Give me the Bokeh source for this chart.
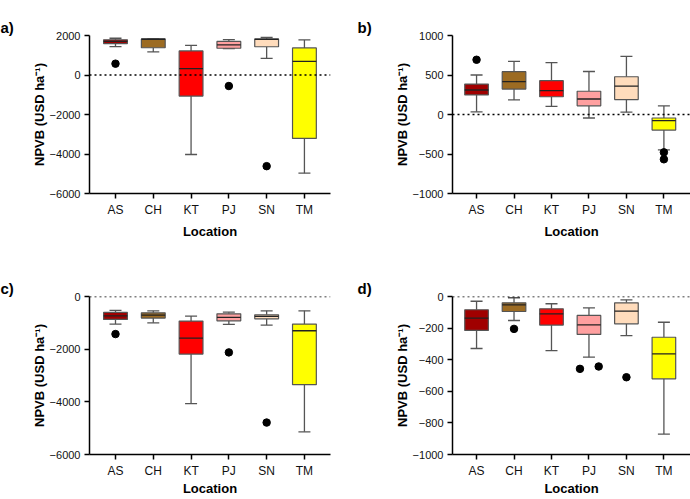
from bokeh.plotting import figure
from bokeh.models import Range1d, FixedTicker, Span, ColumnDataSource, LinearAxis
from bokeh.layouts import column, row
from bokeh.embed import file_html
from bokeh.resources import INLINE

# ---------------- data ----------------
locations = ["AS", "CH", "KT", "PJ", "SN", "TM"]
colors = ["#a00000", "#9c6b22", "#ff0000", "#ffa0a0", "#ffdcbc", "#ffff00"]

# panel a
a_low = [1440, 1170, -4025, 1340, 845, -4972]
a_q1 = [1590, 1380, -1065, 1355, 1430, -3213]
a_med = [1700, 1810, 321, 1530, 1800, 693]
a_q3 = [1780, 1825, 1218, 1700, 1827, 1370]
a_high = [1860, 1830, 1505, 1790, 1900, 1775]
a_out_loc = ["AS", "PJ", "SN"]
a_out_val = [574, -558, -4616]
a_ticks = [-6000, -4000, -2000, 0, 2000]

# panel b
b_low = [34, 185, 103, -44, 30, -449]
b_q1 = [248, 322, 225, 110, 189, -197]
b_med = [310, 416, 303, 196, 360, -78]
b_q3 = [385, 542, 428, 294, 478, -44]
b_high = [500, 672, 657, 544, 735, 108]
b_out_loc = ["AS", "TM", "TM"]
b_out_val = [693, -479, -567]
b_ticks = [-1000, -500, 0, 500, 1000]

# panel c
c_low = [-1048, -998, -4067, -1061, -1086, -5140]
c_q1 = [-871, -821, -2185, -922, -846, -3347]
c_med = [-733, -707, -1579, -796, -758, -1301]
c_q3 = [-606, -619, -935, -657, -695, -1048]
c_high = [-530, -543, -745, -594, -543, -543]
c_out_loc = ["AS", "PJ", "SN"]
c_out_val = [-1427, -2122, -4787]
c_ticks = [-6000, -4000, -2000, 0]

# panel d
d_low = [-329, -152, -342, -384, -247, -871]
d_q1 = [-215, -95, -181, -240, -173, -521]
d_med = [-137, -53, -110, -179, -93, -363]
d_q3 = [-84, -40, -78, -120, -40, -258]
d_high = [-30, -8, -46, -72, -21, -163]
d_out_loc = ["CH", "PJ", "PJ", "SN"]
d_out_val = [-205, -458, -443, -511]
d_ticks = [-1000, -800, -600, -400, -200, 0]

x_title = "Location"
y_title = "NPVB (USD ha\u207b\u00b9)"

# ---------------- styling ----------------
FONT = "Liberation Sans"
BOX_W = 0.63
GREY = "#555555"


def make_panel(tag, low, q1, med, q3, high, out_loc, out_val, ticks,
               x_start, x_end, W, H, left, right, top, bottom, tag_x,
               lab_standoff, gap):
    xs = list(range(1, len(locations) + 1))
    src = ColumnDataSource(dict(
        x=xs, xl=[x - BOX_W / 2 for x in xs], xr=[x + BOX_W / 2 for x in xs],
        low=low, q1=q1, med=med, q3=q3, high=high, color=colors))
    p = figure(width=W, height=H, output_backend="svg", toolbar_location=None,
               title=tag,
               x_range=Range1d(x_start, x_end),
               y_range=Range1d(ticks[0], ticks[-1]),
               min_border_left=left, min_border_right=right,
               min_border_top=top, min_border_bottom=bottom)
    p.outline_line_color = None
    p.grid.visible = False

    p.title.align = "left"
    p.title.offset = tag_x - left
    p.title.text_font = FONT
    p.title.text_font_style = "bold"
    p.title.text_font_size = "15px"
    p.title.text_color = "black"
    p.title.standoff = 0

    p.add_layout(Span(location=0, dimension="width", line_color="black",
                      line_width=1.5, line_dash="2 3"))

    # whiskers
    p.segment(x0="x", y0="q3", x1="x", y1="high", source=src,
              line_color=GREY, line_width=1.3)
    p.segment(x0="x", y0="q1", x1="x", y1="low", source=src,
              line_color=GREY, line_width=1.3)
    p.scatter(x="x", y="high", source=src, marker="dash", size=12,
              line_color=GREY, line_width=1.3)
    p.scatter(x="x", y="low", source=src, marker="dash", size=12,
              line_color=GREY, line_width=1.3)
    # boxes
    p.vbar(x="x", width=BOX_W, top="q3", bottom="q1", source=src,
           fill_color="color", line_color=GREY, line_width=1.2)
    p.segment(x0="xl", y0="med", x1="xr", y1="med", source=src,
              line_color="#222222", line_width=1.3)

    # outliers (spread horizontally when they would overlap)
    yr = ticks[-1] - ticks[0]
    ox = []
    for i, (loc, v) in enumerate(zip(out_loc, out_val)):
        x = locations.index(loc) + 1
        close = [j for j, (l2, v2) in enumerate(zip(out_loc, out_val))
                 if l2 == loc and abs(v2 - v) < 0.03 * yr]
        if len(close) > 1:
            k = close.index(i)
            x += (-0.24 if k == 0 else 0.26)
        ox.append(x)
    p.scatter(x=ox, y=out_val, size=7.5, color="black")

    # axes
    xax = p.below[0]
    yax = p.left[0]
    for ax in (xax, yax):
        ax.axis_line_width = 1.5
        ax.axis_line_color = "black"
        ax.major_tick_line_width = 1.5
        ax.major_tick_line_color = "black"
        ax.major_tick_in = 0
        ax.major_tick_out = 5
        ax.minor_tick_line_color = None
        ax.major_label_text_font = FONT
        ax.major_label_text_color = "#111111"
        ax.axis_label_text_font = FONT
        ax.axis_label_text_font_style = "bold"
        ax.axis_label_text_font_size = "13px"
        ax.axis_label_text_color = "black"
    xax.ticker = FixedTicker(ticks=xs)
    xax.major_label_overrides = {x: l for x, l in zip(xs, locations)}
    xax.major_label_text_font_size = "12px"
    xax.major_label_standoff = 4
    xax.axis_label = x_title
    xax.axis_label_standoff = lab_standoff
    yax.ticker = FixedTicker(ticks=ticks)
    yax.major_label_text_font_size = "11px"
    yax.major_label_standoff = 4
    yax.axis_label = y_title
    yax.axis_label_standoff = 0

    # invisible spacer (an empty axis) between the panel tag and the frame
    spacer = LinearAxis(ticker=FixedTicker(ticks=[]), axis_line_color=None,
                        major_tick_line_color="white",
                        minor_tick_line_color=None,
                        major_tick_in=0, major_tick_out=gap,
                        minor_tick_in=0, minor_tick_out=0,
                        major_label_standoff=0, axis_label_standoff=0)
    p.add_layout(spacer, "above")
    return p


pa = make_panel("a)", a_low, a_q1, a_med, a_q3, a_high, a_out_loc, a_out_val,
                a_ticks, 0.312, 6.69, 345, 250, 89, 15, 35, 57, 0, 4, 15)
pb = make_panel("b)", b_low, b_q1, b_med, b_q3, b_high, b_out_loc, b_out_val,
                b_ticks, 0.358, 6.71, 345, 250, 107, 0, 34, 57, 12, 4, 13)
pc = make_panel("c)", c_low, c_q1, c_med, c_q3, c_high, c_out_loc, c_out_val,
                c_ticks, 0.312, 6.69, 345, 249, 89, 15, 46, 45, 0, 0, 25)
pd = make_panel("d)", d_low, d_q1, d_med, d_q3, d_high, d_out_loc, d_out_val,
                d_ticks, 0.358, 6.71, 345, 249, 107, 0, 46, 45, 12, 0, 25)

layout = column(row(pa, pb), row(pc, pd))
open("out.html", "w").write(file_html(layout, INLINE))
